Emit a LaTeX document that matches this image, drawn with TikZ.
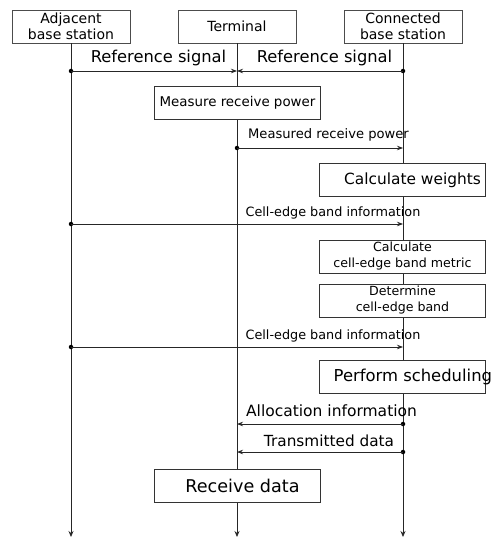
\documentclass[tikz,border=0pt]{standalone}
\usepackage{fontspec}
\setmainfont{DejaVu Sans}
\usetikzlibrary{arrows.meta}
\begin{document}
\begin{tikzpicture}[x=1pt,y=-1pt,
  hdr/.style={draw=black!70,fill=white,line width=0.9pt,minimum width=118pt,minimum height=33pt,inner sep=0pt,align=center,font=\fontsize{14}{16}\selectfont},
  actbox/.style={draw=black!80,fill=white,line width=0.8pt,minimum width=166pt,minimum height=33pt,inner sep=0pt,align=center},
  life/.style={draw=black!85,line width=0.8pt,-{Stealth[length=6pt,width=5pt]}},
  msg/.style={draw=black!85,line width=0.8pt,-{Stealth[length=6pt,width=4.5pt]}},
  dot/.style={circle,fill=black,inner sep=0pt,minimum size=4.5pt},
  txt/.style={inner sep=0pt,align=center}]
\useasboundingbox (0,0) rectangle (493,540);
\begin{scope}
\clip (0,0) rectangle (493,540);
% lifeline endpoints
\coordinate (aE) at (71,537);
\coordinate (tE) at (237,537);
\coordinate (cE) at (403,537);
\node[hdr] (adj) at (71,26.5) {Adjacent\\base station};
\node[hdr] (term) at (237,26.5) {Terminal};
\node[hdr] (conn) at (403,26.5) {Connected\\base station};
\draw[life] (adj.south) -- (aE);
\draw[life] (term.south) -- (tE);
\draw[life] (conn.south) -- (cE);
% reference signals
\coordinate (a1) at (71,71); \coordinate (t1) at (237,71); \coordinate (c1) at (403,71);
\node[dot] (da1) at (a1) {};
\node[dot] (dc1) at (c1) {};
\draw[msg] (da1.center) -- (t1);
\draw[msg] (dc1.center) -- (t1);
\node[txt,font=\fontsize{16.3}{18}\selectfont] (rs1) at (158.5,58) {Reference signal};
\node[txt,font=\fontsize{16.3}{18}\selectfont] (rs2) at (324.5,58) {Reference signal};
% measure receive power
\node[actbox] (mrp) at (237,102.5) {};
\node[txt,font=\fontsize{13.4}{16}\selectfont] (mrpt) at (237.5,103) {Measure receive power};
\coordinate (t2) at (237,148); \coordinate (c2) at (403,148);
\node[dot] (dt2) at (t2) {};
\draw[msg] (dt2.center) -- (c2);
\node[txt,font=\fontsize{13.1}{16}\selectfont] (l2) at (328.5,134.5) {Measured receive power};
% calculate weights
\node[actbox] (cw) at (402.5,179.5) {};
\node[txt,font=\fontsize{15.4}{18}\selectfont] (cwt) at (412.5,180) {Calculate weights};
% cell-edge band info 1
\coordinate (a3) at (71,224); \coordinate (c3) at (403,224);
\node[dot] (da3) at (a3) {};
\draw[msg] (da3.center) -- (c3);
\node[txt,font=\fontsize{12.8}{16}\selectfont] (l3) at (333,212.5) {Cell-edge band information};
\node[actbox,font=\fontsize{12.6}{16}\selectfont] (cm) at (402.5,256.5) {Calculate\\cell-edge band metric};
\node[actbox,font=\fontsize{12.6}{16}\selectfont] (dcb) at (402.5,300.5) {Determine\\cell-edge band};
% cell-edge band info 2
\coordinate (a4) at (71,347); \coordinate (c4) at (403,347);
\node[dot] (da4) at (a4) {};
\draw[msg] (da4.center) -- (c4);
\node[txt,font=\fontsize{12.8}{16}\selectfont] (l4) at (333,335.5) {Cell-edge band information};
\node[actbox] (ps) at (402.5,376.5) {};
\node[txt,font=\fontsize{16.4}{18}\selectfont,anchor=west] (pst) at (333.5,377) {Perform scheduling};
% allocation
\coordinate (c5) at (403,424); \coordinate (t5) at (237,424);
\node[dot] (dc5) at (c5) {};
\draw[msg] (dc5.center) -- (t5);
\node[txt,font=\fontsize{15.5}{18}\selectfont] (l5) at (331.5,410.5) {Allocation information};
\coordinate (c6) at (403,452); \coordinate (t6) at (237,452);
\node[dot] (dc6) at (c6) {};
\draw[msg] (dc6.center) -- (t6);
\node[txt,font=\fontsize{15.3}{18}\selectfont] (l6) at (329,440.5) {Transmitted data};
\node[actbox] (rd) at (237,485.5) {};
\node[txt,font=\fontsize{17.6}{20}\selectfont] (rdt) at (242.5,486) {Receive data};
\end{scope}
\end{tikzpicture}
\end{document}
